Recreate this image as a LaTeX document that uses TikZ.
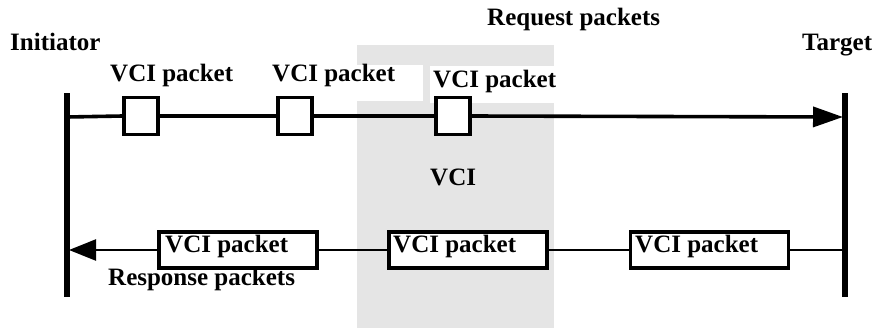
\documentclass[tikz,border=0pt]{standalone}
\usepackage{fontspec}
\setmainfont{Liberation Serif}
\usetikzlibrary{arrows.meta}
\definecolor{vcigray}{RGB}{229,229,229}
\begin{document}
\begin{tikzpicture}[x=1pt,y=-1pt,
  lbl/.style={anchor=base west,inner sep=0pt,font=\fontsize{25}{25}\selectfont\bfseries},
  sbox/.style={draw,line width=3.6pt,fill=white,minimum width=34pt,minimum height=37pt,inner sep=0pt},
  wbox/.style={draw,line width=3.6pt,fill=white,minimum width=158pt,minimum height=36pt,inner sep=0pt},
  bar/.style={line width=6pt},
  req/.style={line width=3.6pt},
  rsp/.style={line width=2.4pt}]
\useasboundingbox (0,0) rectangle (877,333);

% shaded VCI region with white label backgrounds
\fill[vcigray] (357,45) rectangle (554,328);
\fill[white] (357,65) rectangle (423,101);
\fill[white] (430,66) rectangle (554,103);

% initiator and target bars
\coordinate (itop) at (67,93);
\coordinate (ibot) at (67,297);
\coordinate (ttop) at (845,93);
\coordinate (tbot) at (845,297);
\draw[bar] (itop) -- (ibot);
\draw[bar] (ttop) -- (tbot);

% request channel
\coordinate (istart) at (67,117);
\coordinate (tend) at (843,117);
\node[sbox] (q1) at (141,116) {};
\node[sbox] (q2) at (295,116) {};
\node[sbox] (q3) at (453,116) {};
\draw[req] (istart) -- (q1.west);
\draw[req] (q1.east) -- (q2.west);
\draw[req] (q2.east) -- (q3.west);
\draw[req,-{Triangle[length=30pt,width=20pt]}] (q3.east) -- (tend);

% response channel
\coordinate (tstart) at (845,250);
\coordinate (iend) at (69,250);
\node[wbox] (r1) at (238,250) {};
\node[wbox] (r2) at (468,250) {};
\node[wbox] (r3) at (709.5,250) {};
\draw[rsp] (tstart) -- (r3.east);
\draw[rsp] (r3.west) -- (r2.east);
\draw[rsp] (r2.west) -- (r1.east);
\draw[rsp,-{Triangle[length=27pt,width=21pt]}] (r1.west) -- (iend);

% texts
\node[lbl] (tinit) at (10,50) {Initiator};
\node[lbl] (ttarg) at (802,50) {Target};
\node[lbl] (treq) at (487,25) {Request packets};
\node[lbl] (l1) at (110,81) {VCI packet};
\node[lbl] (l2) at (272,81) {VCI packet};
\node[lbl] (l3) at (433,87) {VCI packet};
\node[lbl] (tvci) at (430,185) {VCI};
\node[lbl] (p1) at (165,252) {VCI packet};
\node[lbl] (p2) at (393,252) {VCI packet};
\node[lbl] (p3) at (635,252) {VCI packet};
\node[lbl] (tresp) at (108,285) {Response packets};
\end{tikzpicture}
\end{document}
